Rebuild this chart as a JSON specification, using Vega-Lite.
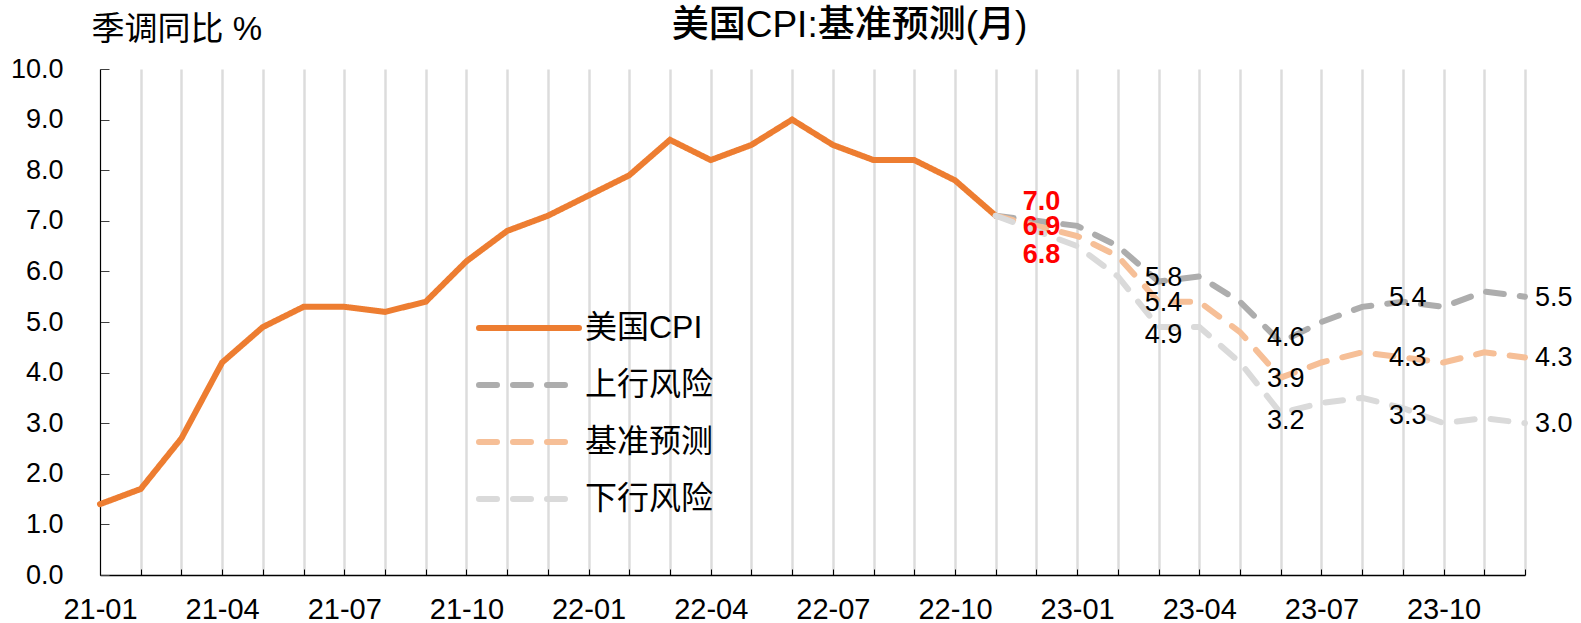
{
  "$schema": "https://vega.github.io/schema/vega-lite/v6.json",
  "width": 1425,
  "height": 506,
  "autosize": {"type": "none"},
  "padding": {"left": 100, "top": 69, "right": 56, "bottom": 48},
  "background": "white",
  "title": {
    "text": "美国CPI:基准预测(月)",
    "anchor": "middle",
    "dx": 37,
    "fontSize": 37,
    "fontWeight": 500,
    "font": "Liberation Sans, Noto Sans CJK SC",
    "color": "#000000",
    "baseline": "middle",
    "offset": -50
  },
  "config": {
    "view": {"stroke": null},
    "font": "Liberation Sans, Noto Sans CJK SC"
  },
  "data": {
    "values": [
      {"m": "21-01", "s": "美国CPI", "v": 1.4},
      {"m": "21-02", "s": "美国CPI", "v": 1.7},
      {"m": "21-03", "s": "美国CPI", "v": 2.7},
      {"m": "21-04", "s": "美国CPI", "v": 4.2},
      {"m": "21-05", "s": "美国CPI", "v": 4.9},
      {"m": "21-06", "s": "美国CPI", "v": 5.3},
      {"m": "21-07", "s": "美国CPI", "v": 5.3},
      {"m": "21-08", "s": "美国CPI", "v": 5.2},
      {"m": "21-09", "s": "美国CPI", "v": 5.4},
      {"m": "21-10", "s": "美国CPI", "v": 6.2},
      {"m": "21-11", "s": "美国CPI", "v": 6.8},
      {"m": "21-12", "s": "美国CPI", "v": 7.1},
      {"m": "22-01", "s": "美国CPI", "v": 7.5},
      {"m": "22-02", "s": "美国CPI", "v": 7.9},
      {"m": "22-03", "s": "美国CPI", "v": 8.6},
      {"m": "22-04", "s": "美国CPI", "v": 8.2},
      {"m": "22-05", "s": "美国CPI", "v": 8.5},
      {"m": "22-06", "s": "美国CPI", "v": 9.0},
      {"m": "22-07", "s": "美国CPI", "v": 8.5},
      {"m": "22-08", "s": "美国CPI", "v": 8.2},
      {"m": "22-09", "s": "美国CPI", "v": 8.2},
      {"m": "22-10", "s": "美国CPI", "v": 7.8},
      {"m": "22-11", "s": "美国CPI", "v": 7.1},
      {"m": "22-11", "s": "上行风险", "v": 7.1},
      {"m": "22-12", "s": "上行风险", "v": 7.0},
      {"m": "23-01", "s": "上行风险", "v": 6.9},
      {"m": "23-02", "s": "上行风险", "v": 6.5},
      {"m": "23-03", "s": "上行风险", "v": 5.8},
      {"m": "23-04", "s": "上行风险", "v": 5.9},
      {"m": "23-05", "s": "上行风险", "v": 5.4},
      {"m": "23-06", "s": "上行风险", "v": 4.6},
      {"m": "23-07", "s": "上行风险", "v": 5.0},
      {"m": "23-08", "s": "上行风险", "v": 5.3},
      {"m": "23-09", "s": "上行风险", "v": 5.4},
      {"m": "23-10", "s": "上行风险", "v": 5.3},
      {"m": "23-11", "s": "上行风险", "v": 5.6},
      {"m": "23-12", "s": "上行风险", "v": 5.5},
      {"m": "22-11", "s": "基准预测", "v": 7.1},
      {"m": "22-12", "s": "基准预测", "v": 6.9},
      {"m": "23-01", "s": "基准预测", "v": 6.7},
      {"m": "23-02", "s": "基准预测", "v": 6.3},
      {"m": "23-03", "s": "基准预测", "v": 5.4},
      {"m": "23-04", "s": "基准预测", "v": 5.4},
      {"m": "23-05", "s": "基准预测", "v": 4.8},
      {"m": "23-06", "s": "基准预测", "v": 3.9},
      {"m": "23-07", "s": "基准预测", "v": 4.2},
      {"m": "23-08", "s": "基准预测", "v": 4.4},
      {"m": "23-09", "s": "基准预测", "v": 4.3},
      {"m": "23-10", "s": "基准预测", "v": 4.2},
      {"m": "23-11", "s": "基准预测", "v": 4.4},
      {"m": "23-12", "s": "基准预测", "v": 4.3},
      {"m": "22-11", "s": "下行风险", "v": 7.1},
      {"m": "22-12", "s": "下行风险", "v": 6.8},
      {"m": "23-01", "s": "下行风险", "v": 6.5},
      {"m": "23-02", "s": "下行风险", "v": 5.9},
      {"m": "23-03", "s": "下行风险", "v": 4.9},
      {"m": "23-04", "s": "下行风险", "v": 4.9},
      {"m": "23-05", "s": "下行风险", "v": 4.2},
      {"m": "23-06", "s": "下行风险", "v": 3.2},
      {"m": "23-07", "s": "下行风险", "v": 3.4},
      {"m": "23-08", "s": "下行风险", "v": 3.5},
      {"m": "23-09", "s": "下行风险", "v": 3.3},
      {"m": "23-10", "s": "下行风险", "v": 3.0},
      {"m": "23-11", "s": "下行风险", "v": 3.1},
      {"m": "23-12", "s": "下行风险", "v": 3.0}
    ]
  },
  "encoding": {
    "x": {
      "field": "m",
      "type": "ordinal",
      "sort": null,
      "scale": {
        "type": "point",
        "padding": 0,
        "domain": ["21-01","21-02","21-03","21-04","21-05","21-06","21-07","21-08","21-09","21-10","21-11","21-12","22-01","22-02","22-03","22-04","22-05","22-06","22-07","22-08","22-09","22-10","22-11","22-12","23-01","23-02","23-03","23-04","23-05","23-06","23-07","23-08","23-09","23-10","23-11","23-12"]
      },
      "axis": {
        "title": null,
        "grid": true,
        "gridColor": "#DCDCDC",
        "gridWidth": 2.5,
        "domainColor": "#000000",
        "domainWidth": 1.5,
        "ticks": true,
        "tickSize": -6,
        "tickColor": "#000000",
        "tickWidth": 1,
        "labelAngle": 0,
        "labelFontSize": 29,
        "labelColor": "#000000",
        "labelPadding": 26,
        "labelExpr": "test(/-(01|04|07|10)$/, datum.value) ? datum.value : ''"
      }
    },
    "y": {
      "field": "v",
      "type": "quantitative",
      "scale": {"domain": [0, 10], "nice": false, "zero": true},
      "axis": {
        "values": [0, 1, 2, 3, 4, 5, 6, 7, 8, 9, 10],
        "format": ".1f",
        "grid": false,
        "domainColor": "#000000",
        "domainWidth": 1,
        "tickSize": -9,
        "tickColor": "#404040",
        "labelFontSize": 27,
        "labelColor": "#000000",
        "labelPadding": 46,
        "title": "季调同比 %",
        "titleAngle": 0,
        "titleAlign": "left",
        "titleBaseline": "middle",
        "titleX": -9,
        "titleY": -40,
        "titleFontSize": 33,
        "titleFontWeight": "normal",
        "titleColor": "#000000"
      }
    }
  },
  "layer": [
    {
      "mark": {"type": "line", "strokeWidth": 6, "strokeCap": "round"},
      "encoding": {
        "stroke": {
          "field": "s",
          "type": "nominal",
          "scale": {
            "domain": ["美国CPI", "上行风险", "基准预测", "下行风险"],
            "range": ["#ED7D31", "#ADADAD", "#F6BF97", "#DADADA"]
          },
          "legend": {
            "title": null,
            "orient": "none",
            "legendX": 373,
            "legendY": 243,
            "padding": 0,
            "symbolType": "M-1,0H9",
            "symbolSize": 400,
            "symbolStrokeWidth": 6,
            "labelFontSize": 32,
            "labelColor": "#000000",
            "labelOffset": 80,
            "rowPadding": 25,
            "labelFont": "Liberation Sans, Noto Sans CJK SC",
            "encode": {"symbols": {"update": {"strokeCap": {"value": "round"}}}}
          }
        },
        "strokeDash": {
          "field": "s",
          "type": "nominal",
          "scale": {
            "domain": ["美国CPI", "上行风险", "基准预测", "下行风险"],
            "range": [[1, 0], [18, 16], [18, 16], [18, 16]]
          },
          "legend": {
            "title": null,
            "orient": "none",
            "legendX": 373,
            "legendY": 243,
            "padding": 0,
            "symbolType": "M-1,0H9",
            "symbolSize": 400,
            "symbolStrokeWidth": 6,
            "labelFontSize": 32,
            "labelColor": "#000000",
            "labelOffset": 80,
            "rowPadding": 25,
            "labelFont": "Liberation Sans, Noto Sans CJK SC",
            "encode": {"symbols": {"update": {"strokeCap": {"value": "round"}}}}
          }
        }
      }
    },
    {
      "transform": [{"filter": {"and": [{"field": "m", "equal": "22-12"}, {"field": "s", "equal": "上行风险"}]}}],
      "mark": {"type": "text", "fontSize": 27, "fontWeight": "bold", "color": "#FF0000", "dx": 5, "dy": -19, "baseline": "middle", "font": "Liberation Sans"},
      "encoding": {"text": {"field": "v", "type": "quantitative", "format": ".1f"}}
    },
    {
      "transform": [{"filter": {"and": [{"field": "m", "equal": "22-12"}, {"field": "s", "equal": "基准预测"}]}}],
      "mark": {"type": "text", "fontSize": 27, "fontWeight": "bold", "color": "#FF0000", "dx": 5, "dy": 1, "baseline": "middle", "font": "Liberation Sans"},
      "encoding": {"text": {"field": "v", "type": "quantitative", "format": ".1f"}}
    },
    {
      "transform": [{"filter": {"and": [{"field": "m", "equal": "22-12"}, {"field": "s", "equal": "下行风险"}]}}],
      "mark": {"type": "text", "fontSize": 27, "fontWeight": "bold", "color": "#FF0000", "dx": 5, "dy": 24, "baseline": "middle", "font": "Liberation Sans"},
      "encoding": {"text": {"field": "v", "type": "quantitative", "format": ".1f"}}
    },
    {
      "transform": [{"filter": {"and": [{"field": "m", "oneOf": ["23-03", "23-06", "23-09"]}, {"field": "s", "equal": "上行风险"}]}}],
      "mark": {"type": "text", "fontSize": 27, "color": "#000000", "dx": 5, "dy": -4, "baseline": "middle", "font": "Liberation Sans"},
      "encoding": {"text": {"field": "v", "type": "quantitative", "format": ".1f"}}
    },
    {
      "transform": [{"filter": {"and": [{"field": "m", "oneOf": ["23-03", "23-06", "23-09"]}, {"field": "s", "equal": "基准预测"}]}}],
      "mark": {"type": "text", "fontSize": 27, "color": "#000000", "dx": 5, "dy": 1, "baseline": "middle", "font": "Liberation Sans"},
      "encoding": {"text": {"field": "v", "type": "quantitative", "format": ".1f"}}
    },
    {
      "transform": [{"filter": {"and": [{"field": "m", "oneOf": ["23-03", "23-06", "23-09"]}, {"field": "s", "equal": "下行风险"}]}}],
      "mark": {"type": "text", "fontSize": 27, "color": "#000000", "dx": 5, "dy": 8, "baseline": "middle", "font": "Liberation Sans"},
      "encoding": {"text": {"field": "v", "type": "quantitative", "format": ".1f"}}
    },
    {
      "transform": [{"filter": {"and": [{"field": "m", "equal": "23-12"}, {"field": "s", "oneOf": ["上行风险", "基准预测", "下行风险"]}]}}],
      "mark": {"type": "text", "fontSize": 27, "color": "#000000", "dx": 10, "dy": 1, "align": "left", "baseline": "middle", "font": "Liberation Sans"},
      "encoding": {"text": {"field": "v", "type": "quantitative", "format": ".1f"}}
    }
  ]
}
